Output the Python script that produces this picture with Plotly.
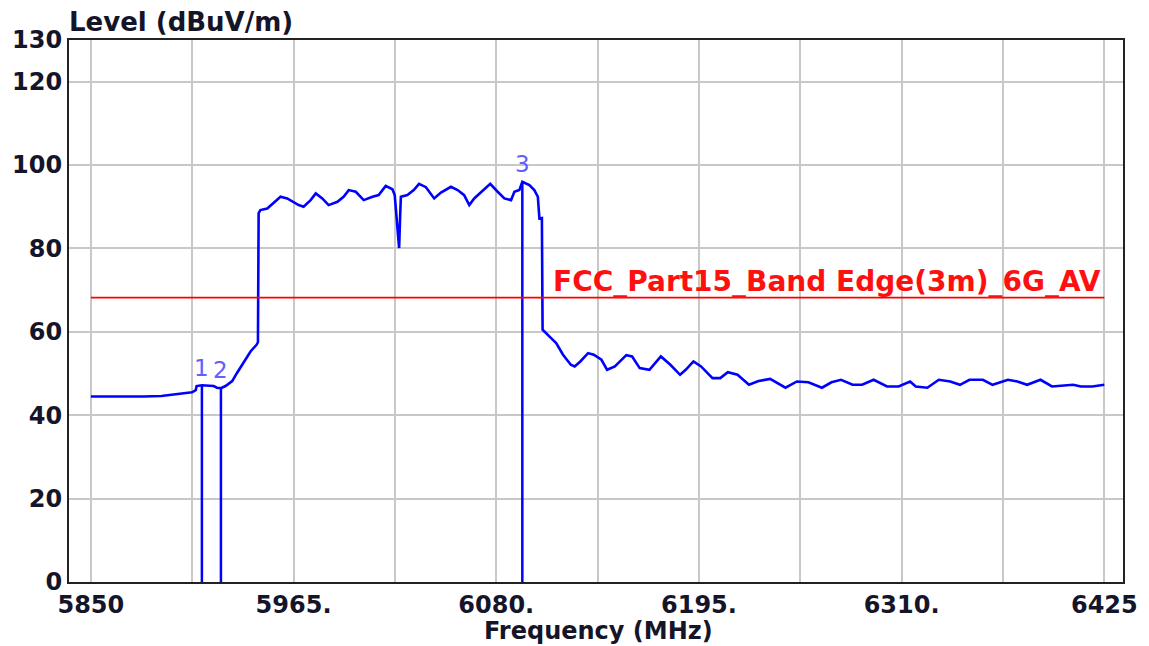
import plotly.graph_objects as go

# ---- data ----
freq_mhz = [5850, 5860, 5870, 5880, 5890, 5897, 5903, 5907.4, 5909.5, 5910.0, 5913.0, 5916, 5919.7, 5921.5,
            5923.8, 5926.4, 5930.2, 5933.0, 5935.8, 5940.6, 5944.0, 5944.8, 5945.2, 5946.2, 5950.1, 5953.6,
            5957.6, 5961.4, 5965.0, 5967.9, 5970.7, 5974.7, 5977.6, 5981.3, 5984.9, 5989.9, 5993.4, 5996.3,
            6000.3, 6004.8, 6009.8, 6013.3, 6017.3, 6021.1, 6022.4, 6024.0, 6024.9, 6025.5, 6025.9, 6029.6,
            6033.2, 6036.2, 6040.1, 6044.8, 6048.6, 6054.3, 6058.1, 6061.8, 6064.7, 6067.5, 6071.3, 6076.6,
            6080.8, 6084.6, 6088.4, 6090.3, 6093.1, 6094.8, 6098.8, 6101.6, 6103.6, 6104.5, 6105.9, 6106.3,
            6110.1, 6114.0, 6117.9, 6122.3, 6124.5, 6127.7, 6132.1, 6135.3, 6139.7, 6142.9, 6147.3, 6153.8,
            6157.1, 6161.4, 6166.9, 6173.4, 6178.8, 6184.3, 6187.5, 6191.9, 6196.2, 6202.7, 6207.1, 6211.4,
            6216.9, 6223.4, 6228.8, 6235.4, 6244.1, 6250.6, 6257.1, 6264.8, 6270.2, 6275.6, 6282.2, 6287.6,
            6294.1, 6301.7, 6308.3, 6314.8, 6318.0, 6324.6, 6331.1, 6337.6, 6343.1, 6348.5, 6356.1, 6361.6,
            6370.3, 6375.7, 6381.2, 6388.8, 6395.3, 6407.3, 6411.7, 6418.2, 6425.0]
level_dbuv = [44.5, 44.5, 44.4, 44.5, 44.6, 44.9, 45.2, 45.5, 46.0, 47.0, 47.2, 47.1, 47.0, 46.6,
              46.5, 47.0, 48.2, 50.2, 52.2, 55.3, 56.9, 57.5, 88.5, 89.2, 89.6, 90.9,
              92.4, 92.0, 91.2, 90.4, 90.0, 91.6, 93.2, 92.0, 90.4, 91.2, 92.4, 94.0,
              93.6, 91.6, 92.4, 92.8, 95.0, 94.2, 92.8, 85.2, 80.1, 88.0, 92.4, 92.8,
              94.0, 95.5, 94.7, 92.0, 93.4, 94.8, 94.0, 92.8, 90.4, 92.0, 93.4, 95.5,
              93.6, 92.0, 91.6, 93.6, 94.0, 96.0, 95.2, 94.0, 92.4, 87.2, 87.3, 60.5,
              58.9, 57.3, 54.5, 52.1, 51.7, 52.9, 54.9, 54.5, 53.3, 50.9, 51.7, 54.4,
              54.1, 51.3, 50.9, 54.1, 52.1, 49.7, 50.9, 52.9, 51.7, 48.9, 48.9, 50.3,
              49.7, 47.3, 48.2, 48.7, 46.6, 48.1, 47.9, 46.6, 47.9, 48.5, 47.3, 47.3,
              48.5, 46.9, 46.9, 48.1, 46.9, 46.6, 48.5, 48.1, 47.3, 48.5, 48.5, 47.3,
              48.5, 48.1, 47.3, 48.5, 46.9, 47.3, 46.9, 46.9, 47.3]

marker_freq = [5913.0, 5923.8, 6094.8]
marker_level = [47.0, 46.6, 96.0]
marker_names = ["1", "2", "3"]

limit_name = "FCC_Part15_Band Edge(3m)_6G_AV"
limit_level = 68.2
limit_freq = [5850, 6425]

x_grid = [5850, 5907.5, 5965, 6022.5, 6080, 6137.5, 6195, 6252.5, 6310, 6367.5, 6425]
x_ticktext = ["5850", "", "5965.", "", "6080.", "", "6195.", "", "6310.", "", "6425"]
y_ticks = [0, 20, 40, 60, 80, 100, 120, 130]

FONT = "DejaVu Sans"
TXT = "#15152a"

fig = go.Figure()

fig.add_trace(go.Scatter(x=freq_mhz, y=level_dbuv, mode="lines",
                         line=dict(color="#0000ff", width=2.6), hoverinfo="x+y"))

for f, v in zip(marker_freq, marker_level):
    fig.add_trace(go.Scatter(x=[f, f], y=[0, v], mode="lines",
                             line=dict(color="#0000ff", width=2.5), hoverinfo="skip"))

fig.add_trace(go.Scatter(x=limit_freq, y=[limit_level, limit_level], mode="lines",
                         line=dict(color="#ff0000", width=1.6), hoverinfo="skip"))

annotations = []
for f, v, n in zip(marker_freq, marker_level, marker_names):
    annotations.append(dict(x=f, y=v, xref="x", yref="y", text=n, showarrow=False,
                            xanchor="center", yanchor="bottom", yshift=3,
                            font=dict(family=FONT, size=23, color="#6060ff")))

annotations.append(dict(x=6110.8, y=limit_level, xref="x", yref="y", text="<b>" + limit_name + "</b>",
                        showarrow=False, xanchor="left", yanchor="bottom", yshift=-2,
                        font=dict(family=FONT, size=28, color="#ff1010")))

annotations.append(dict(x=0, y=1, xref="paper", yref="paper", text="<b>Level (dBuV/m)</b>",
                        showarrow=False, xanchor="left", yanchor="bottom", xshift=-2, yshift=1,
                        font=dict(family=FONT, size=26, color=TXT)))
annotations.append(dict(x=0.502, y=0, xref="paper", yref="paper", text="<b>Frequency (MHz)</b>",
                        showarrow=False, xanchor="center", yanchor="top", yshift=-33,
                        font=dict(family=FONT, size=24, color=TXT)))

# the page body has an 8px margin, so the figure is drawn 8px smaller to fit the window
fig.update_layout(
    width=1141, height=638,
    margin=dict(l=61, r=26, t=32, b=64),
    paper_bgcolor="white", plot_bgcolor="white",
    showlegend=False,
    annotations=annotations,
    xaxis=dict(range=[5837.6, 6435.6], tickmode="array", tickvals=x_grid, ticktext=x_ticktext,
               automargin=False,
               showgrid=True, gridcolor="#c8c8c8", gridwidth=2, zeroline=False,
               showline=True, mirror=True, linecolor="#222222", linewidth=2,
               ticks="", ticklen=0,
               tickfont=dict(family=FONT, size=24, color=TXT, weight="bold")),
    yaxis=dict(range=[0, 130], tickmode="array", tickvals=y_ticks, ticktext=[str(t) for t in y_ticks],
               automargin=False,
               showgrid=True, gridcolor="#c8c8c8", gridwidth=2, zeroline=False,
               showline=True, mirror=True, linecolor="#222222", linewidth=2,
               ticks="", ticklen=0,
               tickfont=dict(family=FONT, size=24, color=TXT, weight="bold")),
)

fig.write_html("out.html")
